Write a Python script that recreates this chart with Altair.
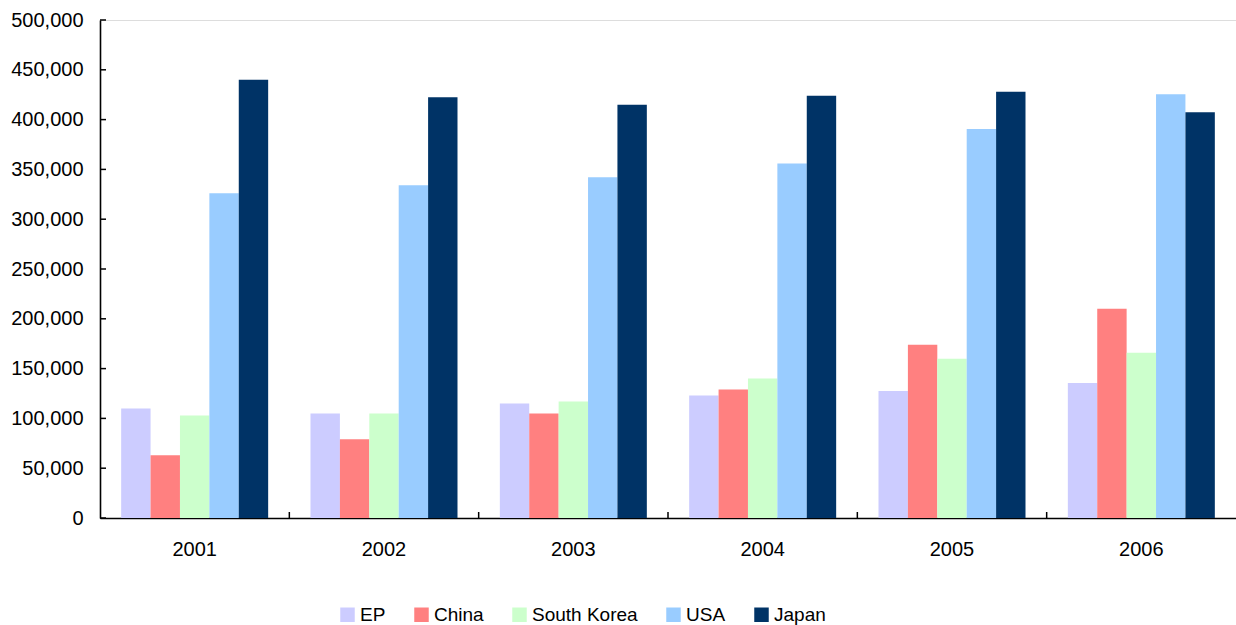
import altair as alt
import pandas as pd

years = ["2001", "2002", "2003", "2004", "2005", "2006"]
series = ["EP", "China", "South Korea", "USA", "Japan"]
colors = ["#CCCCFF", "#FF8080", "#CCFFCC", "#99CCFF", "#003366"]

ep = [110000, 105000, 115000, 123000, 127500, 135500]
china = [63000, 79000, 105000, 129000, 174000, 210000]
south_korea = [103000, 105000, 117000, 140000, 160000, 166000]
usa = [326000, 334000, 342000, 356000, 390500, 425500]
japan = [440000, 422500, 415000, 424000, 428000, 407500]

y_ticks = list(range(0, 500001, 50000))

vals = {"EP": ep, "China": china, "South Korea": south_korea, "USA": usa, "Japan": japan}
rows = []
for s in series:
    for y, v in zip(years, vals[s]):
        rows.append({"year": y, "series": s, "value": v})
df = pd.DataFrame(rows)
df_yt = pd.DataFrame({"value": y_ticks})
df_xt = pd.DataFrame({"year": years[1:]})

font = "Liberation Sans"

x_enc = alt.X("year:N", sort=years, title=None,
              scale=alt.Scale(paddingInner=0, paddingOuter=0),
              axis=alt.Axis(labelAngle=0, ticks=False, tickSize=0, labelPadding=21,
                            labelFontSize=20, labelFont=font, labelColor="#000000",
                            domainColor="#000000", domainWidth=1.6))
y_scale = alt.Scale(domain=[0, 500000], nice=False)

bars = alt.Chart(df).mark_bar().encode(
    x=x_enc,
    xOffset=alt.XOffset("series:N", sort=series, scale=alt.Scale(paddingInner=0, paddingOuter=0.72)),
    y=alt.Y("value:Q", title=None, scale=y_scale,
            axis=alt.Axis(values=y_ticks, format=",d", grid=False, ticks=False,
                          tickSize=0, labelPadding=17, labelFontSize=20, labelFont=font,
                          labelColor="#000000", domainColor="#000000", domainWidth=1.6)),
    color=alt.Color("series:N", sort=series, title=None,
                    scale=alt.Scale(domain=series, range=colors),
                    legend=alt.Legend(orient="none", direction="horizontal", legendX=238, legendY=585,
                                      symbolType="square", symbolSize=210, symbolStrokeWidth=0,
                                      labelFontSize=19, labelFont=font, labelColor="#000000",
                                      columnPadding=26, labelOffset=3)),
)

y_tick_marks = alt.Chart(df_yt).mark_rule(color="#000000", strokeWidth=1.5).encode(
    y=alt.Y("value:Q", scale=y_scale),
    x=alt.value(0),
    x2=alt.value(6),
)

x_tick_marks = alt.Chart(df_xt).mark_rule(color="#000000", strokeWidth=1.5).encode(
    x=alt.X("year:N", sort=years, bandPosition=0),
    y=alt.value(492),
    y2=alt.value(498),
)

chart = alt.layer(bars, y_tick_marks, x_tick_marks).properties(
    width=1136, height=498,
    autosize=alt.AutoSizeParams(type="none"),
    padding={"left": 100, "top": 20, "right": 0, "bottom": 107},
).configure_view(stroke=None).configure(background="white")

chart.save("out.html", embed_options={"renderer": "svg", "actions": False})
